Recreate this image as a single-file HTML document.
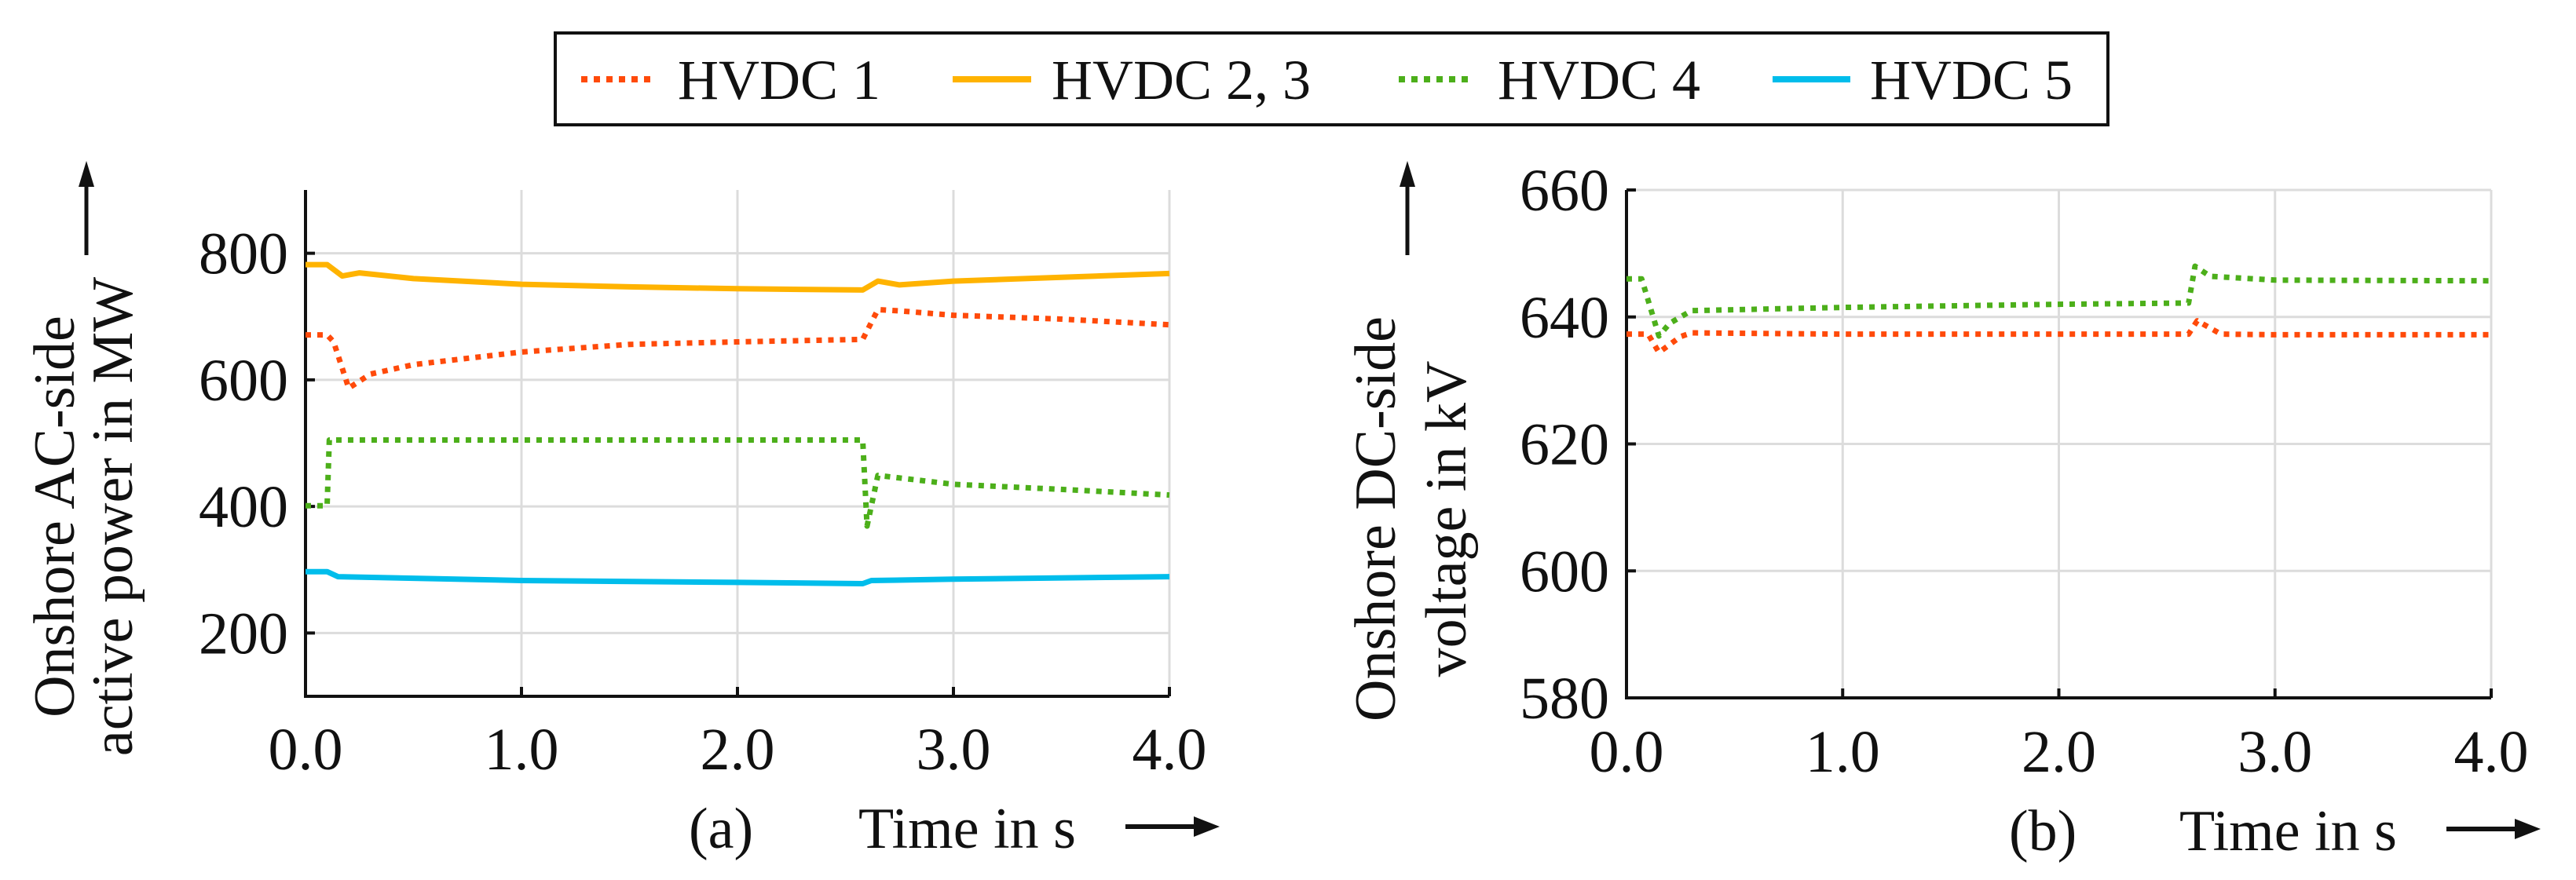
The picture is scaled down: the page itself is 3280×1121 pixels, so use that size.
<!DOCTYPE html>
<html><head><meta charset="utf-8">
<style>
html,body{margin:0;padding:0;background:#fff;}
svg{display:block;}
text{font-family:"Liberation Serif",serif;fill:#111;}
</style></head>
<body>
<svg id="fig" width="3280" height="1121" viewBox="0 0 3280 1121" xmlns="http://www.w3.org/2000/svg">
  <defs>
    <marker id="ah" markerWidth="10" markerHeight="10" refX="5" refY="5" orient="auto" markerUnits="userSpaceOnUse"></marker>
  </defs>
  <!-- Legend -->
  <g>
    <rect x="707" y="42" width="1977" height="117" fill="#fff" stroke="#111" stroke-width="4"/>
    <g>
      <line x1="740" y1="101" x2="831" y2="101" stroke="#FF4A0A" stroke-width="8" stroke-dasharray="8 8"/>
      <text x="863" y="126" font-size="72">HVDC 1</text>
    </g>
    <g>
      <line x1="1213" y1="101" x2="1313" y2="101" stroke="#FFB300" stroke-width="8"/>
      <text x="1339" y="126" font-size="72">HVDC 2, 3</text>
    </g>
    <g>
      <line x1="1781" y1="101" x2="1872" y2="101" stroke="#4CAF1A" stroke-width="8" stroke-dasharray="8 8"/>
      <text x="1907" y="126" font-size="72">HVDC 4</text>
    </g>
    <g>
      <line x1="2257" y1="101" x2="2356" y2="101" stroke="#00BDEB" stroke-width="8"/>
      <text x="2381" y="126" font-size="72">HVDC 5</text>
    </g>
  </g>
  <g id="chartA"></g>
  <g id="chartB"></g>
</svg>
<script>
// ---- data: chart (a) onshore AC-side active power (MW) ----
const aTime1 = [0, 0.1, 0.13, 0.2, 0.3, 0.5, 1.0, 1.5, 2.0, 2.58, 2.65, 2.75, 3.0, 3.5, 4.0];
const aHvdc1 = [671, 671, 660, 587, 609, 624, 644, 656, 660, 664, 711, 709, 702, 696, 687];
const aTime23 = [0, 0.1, 0.17, 0.25, 0.5, 1.0, 1.5, 2.0, 2.58, 2.65, 2.75, 3.0, 3.5, 4.0];
const aHvdc23 = [782, 782, 764, 769, 760, 751, 747, 744, 742, 756, 750, 756, 762, 768];
const aTime4 = [0, 0.1, 0.11, 2.58, 2.6, 2.65, 3.0, 3.5, 4.0];
const aHvdc4 = [401, 401, 505, 505, 369, 449, 435, 427, 418];
const aTime5 = [0, 0.1, 0.15, 1.0, 2.0, 2.58, 2.62, 3.0, 4.0];
const aHvdc5 = [297, 297, 289, 283, 280, 278, 283, 285, 289];
const aYTicks = [200, 400, 600, 800];
const xTicks = [0, 1, 2, 3, 4];
const xTickLabels = ["0.0", "1.0", "2.0", "3.0", "4.0"];
// ---- data: chart (b) onshore DC-side voltage (kV) ----
const bTime1 = [0, 0.1, 0.15, 0.25, 0.3, 1.0, 2.0, 2.6, 2.64, 2.75, 3.0, 4.0];
const bHvdc1 = [637.3, 637.3, 634.4, 636.9, 637.5, 637.3, 637.3, 637.3, 639.4, 637.3, 637.2, 637.2];
const bTime4 = [0, 0.07, 0.15, 0.2, 0.3, 1.0, 2.0, 2.6, 2.63, 2.7, 3.0, 4.0];
const bHvdc4 = [646, 646, 637, 639, 641, 641.5, 642, 642.2, 648, 646.4, 645.8, 645.7];
const bYTicks = [580, 600, 620, 640, 660];

const NS = "http://www.w3.org/2000/svg";
function mk(parent, tag, attrs) {
  const e = document.createElementNS(NS, tag);
  for (const k in attrs) e.setAttribute(k, attrs[k]);
  parent.appendChild(e);
  return e;
}

function drawChart(g, cfg) {
  const sx = t => cfg.x0 + (t - cfg.xmin) / (cfg.xmax - cfg.xmin) * (cfg.x1 - cfg.x0);
  const sy = v => cfg.y1 - (v - cfg.ymin) / (cfg.ymax - cfg.ymin) * (cfg.y1 - cfg.y0);
  // grid
  xTicks.forEach((t, i) => {
    const l = mk(g, "line", {x1: sx(t), x2: sx(t), y1: cfg.y0, y2: cfg.y1, stroke: "#dcdcdc", "stroke-width": 3});
    
    
    const tk = mk(g, "line", {x1: sx(t), x2: sx(t), y1: cfg.y1, y2: cfg.y1 - 12, stroke: "#111", "stroke-width": 4});
    
    
    const tx = mk(g, "text", {x: sx(t), y: cfg.xLabelY, "font-size": 76, "text-anchor": "middle"});
    tx.textContent = xTickLabels[i];
    
    
  });
  cfg.yTicks.forEach(v => {
    const l = mk(g, "line", {x1: cfg.x0, x2: cfg.x1, y1: sy(v), y2: sy(v), stroke: "#dcdcdc", "stroke-width": 3});
    
    
    const tk = mk(g, "line", {x1: cfg.x0, x2: cfg.x0 + 12, y1: sy(v), y2: sy(v), stroke: "#111", "stroke-width": 4});
    
    
    const tx = mk(g, "text", {x: cfg.x0 - 22, y: sy(v) + 26, "font-size": 76, "text-anchor": "end"});
    tx.textContent = String(v);
    
    
  });
  // axes
  const ax = mk(g, "path", {d: `M${cfg.x0},${cfg.y0} L${cfg.x0},${cfg.y1} L${cfg.x1},${cfg.y1}`, fill: "none", stroke: "#111", "stroke-width": 4});
  
  
  // series
  cfg.series.forEach(s => {
    const d = s.t.map((t, i) => (i ? "L" : "M") + sx(t).toFixed(1) + "," + sy(s.v[i]).toFixed(1)).join(" ");
    const attrs = {d: d, fill: "none", stroke: s.color, "stroke-width": s.dash ? 7 : 7, "stroke-linejoin": "round"};
    if (s.dash) attrs["stroke-dasharray"] = "7 8";
    const p = mk(g, "path", attrs);
    
    
  });
}

drawChart(document.getElementById("chartA"), {
  x0: 389, x1: 1489, y0: 242, y1: 887, xmin: 0, xmax: 4, ymin: 100, ymax: 900,
  yTicks: aYTicks, xLabelY: 980,
  series: [
    {t: aTime23, v: aHvdc23, color: "#FFB300", dash: false, name: "line-hvdc2-3"},
    {t: aTime5, v: aHvdc5, color: "#00BDEB", dash: false, name: "line-hvdc5"},
    {t: aTime1, v: aHvdc1, color: "#FF4A0A", dash: true, name: "line-hvdc1"},
    {t: aTime4, v: aHvdc4, color: "#4CAF1A", dash: true, name: "line-hvdc4"}
  ]
});
drawChart(document.getElementById("chartB"), {
  x0: 2071, x1: 3172, y0: 242, y1: 889, xmin: 0, xmax: 4, ymin: 580, ymax: 660,
  yTicks: bYTicks, xLabelY: 983,
  series: [
    {t: bTime4, v: bHvdc4, color: "#4CAF1A", dash: true, name: "line-hvdc4"},
    {t: bTime1, v: bHvdc1, color: "#FF4A0A", dash: true, name: "line-hvdc1"}
  ]
});
</script>
<svg width="0" height="0" style="position:absolute"></svg>
<script>
(function(){
  const svg = document.getElementById("fig");
  const NS = "http://www.w3.org/2000/svg";
  function add(tag, attrs, txt, name) {
    const e = document.createElementNS(NS, tag);
    for (const k in attrs) e.setAttribute(k, attrs[k]);
    if (txt) e.textContent = txt;
    
    
    svg.appendChild(e);
    return e;
  }
  // y-axis titles (a)
  add("text", {x: 0, y: 0, "font-size": 74, "text-anchor": "middle", transform: "translate(94,658) rotate(-90)"}, "Onshore AC-side", "y-axis-title-a-line1");
  add("text", {x: 0, y: 0, "font-size": 74, "text-anchor": "middle", transform: "translate(168,658) rotate(-90)"}, "active power in MW", "y-axis-title-a-line2");
  add("path", {d: "M110,325 L110,235", stroke: "#111", "stroke-width": 5, fill: "none"}, null, "y-axis-arrow-a");
  add("path", {d: "M100,238 L110,205 L120,238 Z", fill: "#111"}, null, "y-axis-arrowhead-a");
  // y-axis titles (b)
  add("text", {x: 0, y: 0, "font-size": 74, "text-anchor": "middle", transform: "translate(1776,661) rotate(-90)"}, "Onshore DC-side", "y-axis-title-b-line1");
  add("text", {x: 0, y: 0, "font-size": 74, "text-anchor": "middle", transform: "translate(1866,661) rotate(-90)"}, "voltage in kV", "y-axis-title-b-line2");
  add("path", {d: "M1792,325 L1792,235", stroke: "#111", "stroke-width": 5, fill: "none"}, null, "y-axis-arrow-b");
  add("path", {d: "M1782,238 L1792,205 L1802,238 Z", fill: "#111"}, null, "y-axis-arrowhead-b");
  // x-axis titles
  add("text", {x: 877, y: 1080, "font-size": 74}, "(a)", "panel-label-a");
  add("text", {x: 1093, y: 1080, "font-size": 74}, "Time in s", "x-axis-title-a");
  add("path", {d: "M1433,1053 L1525,1053", stroke: "#111", "stroke-width": 6}, null, "x-axis-arrow-a");
  add("path", {d: "M1520,1040 L1553,1053 L1520,1066 Z", fill: "#111"}, null, "x-axis-arrowhead-a");
  add("text", {x: 2558, y: 1083, "font-size": 74}, "(b)", "panel-label-b");
  add("text", {x: 2775, y: 1083, "font-size": 74}, "Time in s", "x-axis-title-b");
  add("path", {d: "M3115,1056 L3207,1056", stroke: "#111", "stroke-width": 6}, null, "x-axis-arrow-b");
  add("path", {d: "M3202,1043 L3235,1056 L3202,1069 Z", fill: "#111"}, null, "x-axis-arrowhead-b");
})();
</script>
</body></html>
